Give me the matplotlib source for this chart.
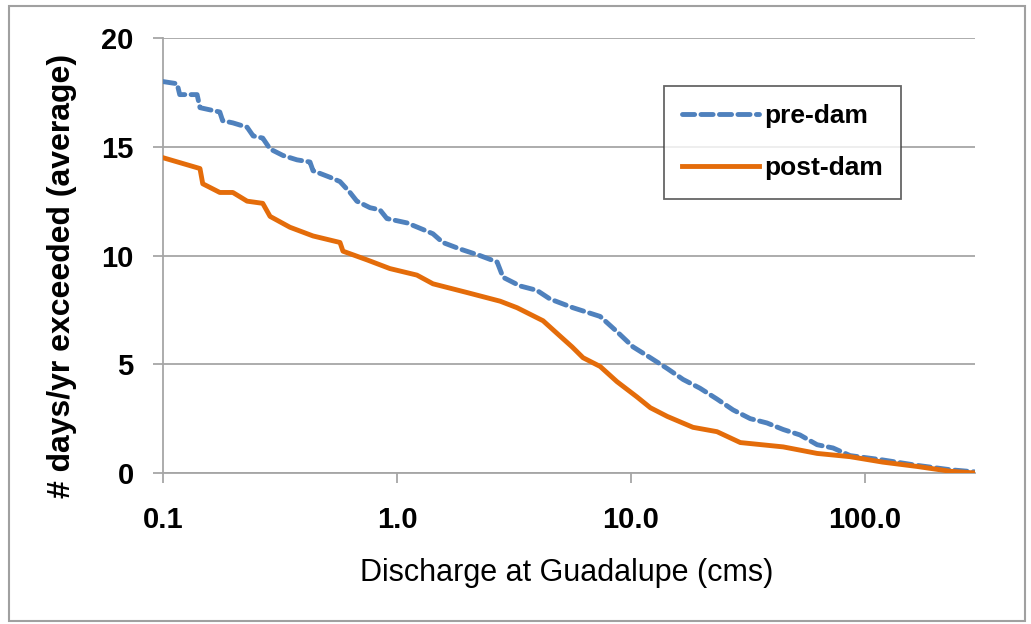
import matplotlib
matplotlib.use("Agg")
import matplotlib.pyplot as plt
from matplotlib.patches import Rectangle
from matplotlib.ticker import FixedLocator, NullLocator

plt.rcParams['font.family'] = ['Liberation Sans', 'DejaVu Sans']

# pre-dam exceedance curve (discharge cms, days/yr)
pre_q = [0.1, 0.115, 0.118, 0.140, 0.144, 0.175, 0.18, 0.199, 0.229, 0.243,
         0.267, 0.287, 0.326, 0.374, 0.425, 0.438, 0.517, 0.571, 0.630, 0.674,
         0.767, 0.846, 0.906, 1.104, 1.29, 1.425, 1.57, 1.86, 2.26, 2.68,
         2.84, 3.36, 3.96, 4.51, 5.65, 7.38, 8.71, 10.2, 12.1, 14.3,
         16.7, 19.7, 23.3, 27.3, 32.3, 38.1, 44.7, 52.7, 62.4, 73.0,
         86.3, 119, 167, 231, 295]
pre_days = [18.0, 17.9, 17.4, 17.4, 16.8, 16.6, 16.2, 16.1, 15.9, 15.5,
            15.4, 14.9, 14.6, 14.4, 14.3, 13.9, 13.6, 13.4, 12.9, 12.5,
            12.2, 12.1, 11.7, 11.5, 11.2, 11.0, 10.6, 10.3, 10.0, 9.7,
            9.0, 8.6, 8.4, 8.0, 7.6, 7.2, 6.5, 5.8, 5.3, 4.8,
            4.3, 3.9, 3.4, 2.9, 2.5, 2.3, 2.0, 1.75, 1.3, 1.15,
            0.8, 0.6, 0.35, 0.15, 0.05]

# post-dam exceedance curve
post_q = [0.1, 0.144, 0.148, 0.175, 0.199, 0.229, 0.267, 0.287, 0.349, 0.438,
          0.571, 0.588, 0.745, 0.933, 1.217, 1.425, 1.99, 2.76, 3.26, 4.21,
          4.97, 5.6, 6.24, 7.38, 8.71, 10.6, 12.1, 14.3, 18.4, 23.3, 29.3,
          44.7, 62.4, 86.3, 119, 167, 231, 295]
post_days = [14.5, 14.0, 13.3, 12.9, 12.9, 12.5, 12.4, 11.8, 11.3, 10.9,
             10.6, 10.2, 9.8, 9.4, 9.1, 8.7, 8.3, 7.9, 7.6, 7.0,
             6.3, 5.8, 5.3, 4.9, 4.2, 3.5, 3.0, 2.6, 2.1, 1.9, 1.4,
             1.2, 0.9, 0.75, 0.5, 0.3, 0.08, 0.0]

x_ticks = [0.1, 1.0, 10.0, 100.0]
x_tick_labels = ['0.1', '1.0', '10.0', '100.0']
y_ticks = [0, 5, 10, 15, 20]

fig = plt.figure(figsize=(10.31, 6.24), dpi=100)
ax = fig.add_axes([0.158, 0.242, 0.7877, 0.697])

grid_col = '#a6a6a6'
ax.plot(pre_q, pre_days, color='#4F81BD', lw=3.5, dashes=(2.5, 1.3),
        dash_capstyle='round', label='pre-dam', zorder=3)
ax.plot(post_q, post_days, color='#E46C0A', lw=3.5, label='post-dam',
        zorder=4)

ax.set_xscale('log')
ax.set_xlim(0.1, 295)
ax.set_ylim(0, 20)
ax.xaxis.set_major_locator(FixedLocator(x_ticks))
ax.xaxis.set_minor_locator(NullLocator())
ax.set_xticklabels(x_tick_labels)
ax.set_yticks(y_ticks)

ax.grid(axis='y', color=grid_col, lw=1.3)
ax.set_axisbelow(True)
for s in ['top', 'right']:
    ax.spines[s].set_visible(False)
for s in ['left', 'bottom']:
    ax.spines[s].set_color(grid_col)
    ax.spines[s].set_linewidth(1.3)
ax.tick_params(axis='both', colors=grid_col, width=1.3, length=7,
               labelcolor='black', labelsize=21)
ax.tick_params(axis='x', pad=17)
ax.tick_params(axis='y', pad=14)
for lbl in ax.get_xticklabels() + ax.get_yticklabels():
    lbl.set_fontweight('bold')

ax.set_ylabel('# days/yr exceeded (average)', fontsize=23,
              fontweight='bold')
ax.yaxis.set_label_coords(-0.106, 0.453)
ax.set_xlabel('Discharge at Guadalupe (cms)', fontsize=22)
ax.xaxis.set_label_coords(0.4975, -0.195)

leg = ax.legend(loc='upper left', bbox_to_anchor=(0.617, 0.89),
                frameon=True, fancybox=False, fontsize=19,
                handlelength=2.9, handletextpad=0.2, borderpad=0.7,
                labelspacing=1.05, borderaxespad=0)
leg.get_frame().set_edgecolor('#404040')
leg.get_frame().set_linewidth(1.3)
for t in leg.get_texts():
    t.set_fontweight('bold')

# outer border around the whole chart
fig.patches.append(Rectangle((9 / 1031, 3 / 624), 1016 / 1031, 615 / 624,
                             transform=fig.transFigure, fill=False,
                             edgecolor='#a0a0a0', lw=1.5))

fig.savefig('out.png', dpi=100)
